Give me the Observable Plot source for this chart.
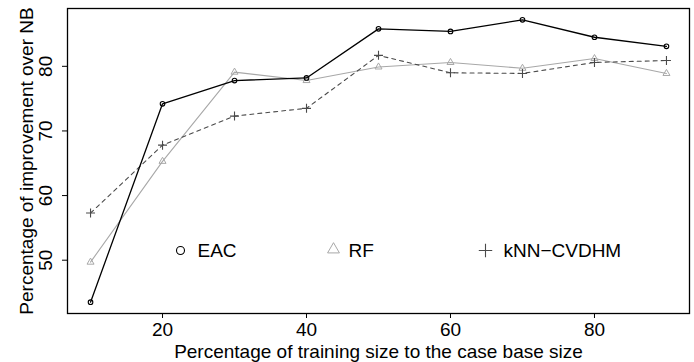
<!DOCTYPE html>
<html>
<head>
<meta charset="utf-8">
<script src="https://cdn.jsdelivr.net/npm/d3@7"></script>
<script src="https://cdn.jsdelivr.net/npm/@observablehq/plot@0.6"></script>
<style>
  html, body { margin: 0; padding: 0; background: #fff; }
  #chart { width: 694px; height: 362px; }
</style>
</head>
<body>
<div id="chart"></div>
<script>
// Data
const trainingSize = [10, 20, 30, 40, 50, 60, 70, 80, 90];
const eac  = [43.5, 74.2, 77.8, 78.2, 85.8, 85.4, 87.2, 84.5, 83.1];
const rf   = [49.7, 65.3, 79.1, 77.8, 79.9, 80.6, 79.7, 81.2, 78.9];
const knn  = [57.3, 67.8, 72.3, 73.5, 81.7, 79.0, 78.9, 80.6, 80.9];
const seriesNames = ["EAC", "RF", "kNN\u2212CVDHM"];
const xTicks = [20, 40, 60, 80];
const yTicks = [50, 60, 70, 80];
const xTitle = "Percentage of training size to the case base size";
const yTitle = "Percentage of improvement over NB";

const toRows = (vals) => trainingSize.map((x, i) => ({x, y: vals[i]}));
const eacRows = toRows(eac), rfRows = toRows(rf), knnRows = toRows(knn);

// R-style 4% axis padding
function rDomain(vals) {
  const lo = d3.min(vals), hi = d3.max(vals), p = (hi - lo) * 0.04;
  return [lo - p, hi + p];
}
const xDom = rDomain(trainingSize);
const yDom = rDomain([...eac, ...rf, ...knn]);

const FONT = "'Liberation Sans', Arial, Helvetica, sans-serif";
const FS = 19;
const cEAC = "#000000", cRF = "#a8a8a8", cKNN = "#4a4a4a";

const chart = Plot.plot({
  width: 694,
  height: 362,
  marginLeft: 67,
  marginRight: 5,
  marginTop: 8,
  marginBottom: 49,
  style: {fontFamily: FONT, fontSize: FS + "px", background: "#fff", color: "#000"},
  x: {domain: xDom},
  y: {domain: yDom},
  marks: [
    Plot.axisX({ticks: xTicks, tickSize: 5, tickPadding: 4, label: null, fontSize: FS, stroke: "#000"}),
    Plot.axisY({ticks: yTicks, tickSize: 5, tickRotate: -90, tickPadding: 11, label: null, fontSize: FS, stroke: "#000"}),
    Plot.text([xTitle], {frameAnchor: "bottom", dy: 44, textAnchor: "middle", lineAnchor: "bottom", fontSize: FS, fill: "#000"}),
    Plot.text([yTitle], {frameAnchor: "left", dx: -41, rotate: -90, textAnchor: "middle", lineAnchor: "middle", fontSize: FS, fill: "#000"}),
    // RF
    Plot.line(rfRows, {x: "x", y: "y", stroke: cRF, strokeWidth: 1.1}),
    Plot.dot(rfRows, {x: "x", y: "y", symbol: "triangle", r: 2.6, stroke: cRF, fill: "none", strokeWidth: 1}),
    // kNN
    Plot.line(knnRows, {x: "x", y: "y", stroke: cKNN, strokeWidth: 1.1, strokeDasharray: "4,4"}),
    Plot.dot(knnRows, {x: "x", y: "y", symbol: "plus", r: 3, stroke: cKNN, fill: "none", strokeWidth: 1.1}),
    // EAC
    Plot.line(eacRows, {x: "x", y: "y", stroke: cEAC, strokeWidth: 1.3}),
    Plot.dot(eacRows, {x: "x", y: "y", symbol: "circle", r: 2.3, stroke: cEAC, fill: "none", strokeWidth: 1.1}),
    // Legend
    Plot.dot([seriesNames[0]], {frameAnchor: "top-left", dx: 113, dy: 242, symbol: "circle", r: 4, stroke: cEAC, fill: "none", strokeWidth: 1.1}),
    Plot.text([seriesNames[0]], {frameAnchor: "top-left", dx: 130, dy: 242, textAnchor: "start", lineAnchor: "middle", fontSize: FS, fill: "#000"}),
    Plot.dot([seriesNames[1]], {frameAnchor: "top-left", dx: 266, dy: 241, symbol: "triangle", r: 4.4, stroke: cRF, fill: "none", strokeWidth: 1}),
    Plot.text([seriesNames[1]], {frameAnchor: "top-left", dx: 281, dy: 242, textAnchor: "start", lineAnchor: "middle", fontSize: FS, fill: "#000"}),
    Plot.dot([seriesNames[2]], {frameAnchor: "top-left", dx: 418, dy: 242, symbol: "plus", r: 4.4, stroke: cKNN, fill: "none", strokeWidth: 1.1}),
    Plot.text([seriesNames[2]], {frameAnchor: "top-left", dx: 436, dy: 242, textAnchor: "start", lineAnchor: "middle", fontSize: FS, fill: "#000"}),
    Plot.frame({stroke: "#000", strokeWidth: 1.3})
  ]
});
document.getElementById("chart").appendChild(chart);
</script>
</body>
</html>
